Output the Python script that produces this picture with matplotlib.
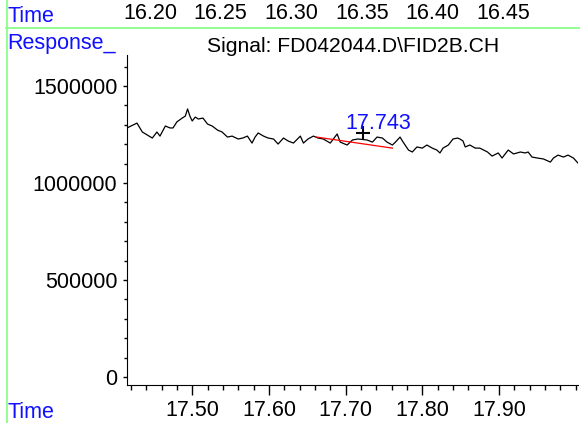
import matplotlib
matplotlib.use("Agg")
import matplotlib.pyplot as plt
from matplotlib.ticker import MultipleLocator, FormatStrFormatter

plt.rcParams['font.family'] = ['Liberation Sans', 'DejaVu Sans']

# retention time (min) and detector response
time = [17.415, 17.428, 17.435, 17.448, 17.454, 17.458, 17.465, 17.471, 17.475, 17.480,
        17.487, 17.491, 17.494, 17.497, 17.500, 17.504, 17.508, 17.514, 17.520, 17.526,
        17.533, 17.539, 17.546, 17.552, 17.560, 17.566, 17.572, 17.578, 17.582, 17.586,
        17.593, 17.599, 17.606, 17.612, 17.619, 17.625, 17.632, 17.641, 17.645, 17.651,
        17.658, 17.664, 17.671, 17.680, 17.689, 17.693, 17.702, 17.709, 17.716, 17.728,
        17.735, 17.741, 17.748, 17.754, 17.761, 17.765, 17.771, 17.775, 17.782, 17.787,
        17.793, 17.800, 17.806, 17.813, 17.819, 17.823, 17.827, 17.834, 17.840, 17.846,
        17.849, 17.853, 17.856, 17.862, 17.869, 17.875, 17.885, 17.891, 17.899, 17.904,
        17.912, 17.919, 17.928, 17.934, 17.938, 17.943, 17.950, 17.958, 17.967, 17.971,
        17.977, 17.984, 17.990, 17.997, 18.003]
response = [1284000, 1309000, 1263000, 1232000, 1263000, 1242000, 1294000, 1284000, 1284000, 1315000,
            1335000, 1345000, 1382000, 1345000, 1320000, 1340000, 1330000, 1335000, 1304000, 1294000,
            1273000, 1263000, 1237000, 1242000, 1227000, 1232000, 1242000, 1206000, 1237000, 1258000,
            1242000, 1232000, 1227000, 1201000, 1232000, 1217000, 1206000, 1242000, 1206000, 1227000,
            1242000, 1232000, 1227000, 1206000, 1253000, 1211000, 1196000, 1222000, 1227000, 1222000,
            1211000, 1237000, 1232000, 1211000, 1196000, 1211000, 1237000, 1211000, 1170000, 1160000,
            1186000, 1180000, 1196000, 1180000, 1170000, 1155000, 1180000, 1196000, 1227000, 1232000,
            1227000, 1217000, 1186000, 1196000, 1180000, 1180000, 1160000, 1139000, 1155000, 1129000,
            1170000, 1150000, 1160000, 1155000, 1160000, 1134000, 1129000, 1124000, 1108000, 1129000,
            1144000, 1134000, 1144000, 1129000, 1103000]

# integration baseline and peak mark
base_t = [17.662, 17.761]
base_r = [1237000, 1180000]
peak_t = 17.723
peak_r = 1258000
peak_label = "17.743"
label_r = 1307000

top_times = [16.20, 16.25, 16.30, 16.35, 16.40, 16.45]
title = "Signal: FD042044.D\\FID2B.CH"

blue = '#1010ff'
green = '#80ff80'
fs = 15.5

fig = plt.figure(figsize=(5.8, 4.23), dpi=100)

# frame lines
fig.add_artist(plt.Line2D([6 / 580, 1], [1 - 28 / 423, 1 - 28 / 423], color=green, lw=1.2))
fig.add_artist(plt.Line2D([6.5 / 580, 6.5 / 580], [0, 1], color=green, lw=1.2))

fig.text(7 / 580, 1 - 17 / 423, "Time", color=blue, fontsize=fs, va='center')
fig.text(7 / 580, 1 - 43 / 423, "Response_", color=blue, fontsize=fs, va='center')
fig.text(7 / 580, 1 - 412 / 423, "Time", color=blue, fontsize=fs, va='center')
fig.text(353 / 580, 1 - 46 / 423, title, fontsize=15.2, ha='center', va='center')

# top time scale
top = fig.add_axes([0, 1 - 28 / 423, 1, 28 / 423])
top.set_xlim(16.20 - 150 / 1412, 16.20 + 430 / 1412)
top.set_ylim(0, 1)
top.axis('off')
for t in top_times:
    top.text(t, 0.52, f"{t:.2f}", fontsize=fs, ha='center', va='center')

ax = fig.add_axes([127 / 580, 1 - 385 / 423, 451 / 580, 330 / 423])
ax.plot(time, response, color='black', lw=0.9)
ax.plot(base_t, base_r, color='red', lw=0.9)
ax.plot(peak_t, peak_r, marker='+', color='black', markersize=10, mew=1.5)
ax.text(peak_t + 0.02, label_r, peak_label, color=blue, fontsize=fs, ha='center', va='center')

ax.set_xlim(17.415, 18.003)
ax.set_ylim(-41000, 1660000)
ax.xaxis.set_major_locator(MultipleLocator(0.1))
ax.xaxis.set_minor_locator(MultipleLocator(0.02))
ax.xaxis.set_major_formatter(FormatStrFormatter('%.2f'))
ax.yaxis.set_major_locator(MultipleLocator(500000))
ax.yaxis.set_minor_locator(MultipleLocator(100000))
ax.yaxis.set_major_formatter(FormatStrFormatter('%d'))
ax.tick_params(axis='x', which='major', length=7.5, width=1, labelsize=fs, pad=3)
ax.tick_params(axis='x', which='minor', length=3.8, width=1)
ax.tick_params(axis='y', which='major', length=3, width=1, labelsize=fs, pad=4)
ax.tick_params(axis='y', which='minor', length=2.5, width=1)
ax.spines['top'].set_visible(False)
ax.spines['right'].set_visible(False)
ax.set_xticks([t for t in ax.get_xticks() if t < 17.995], minor=False)
ax.set_xlim(17.415, 18.003)

fig.savefig("out.png", dpi=100)
